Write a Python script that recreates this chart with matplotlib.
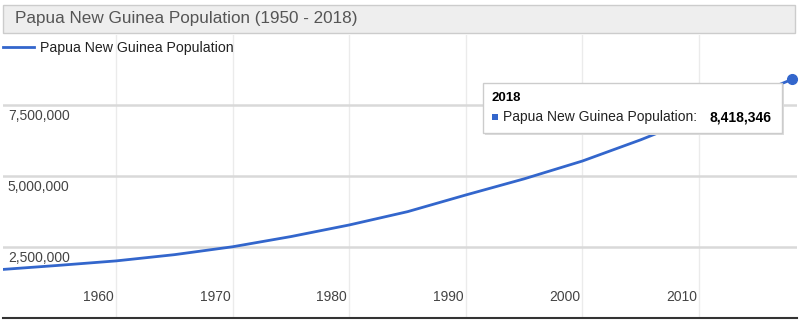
import matplotlib
matplotlib.use('Agg')
import matplotlib.pyplot as plt
from matplotlib.patches import Rectangle
from matplotlib.ticker import FuncFormatter

# 数据（从图上读出来的估计值）
years = [1950, 1955, 1960, 1965, 1970, 1975, 1980, 1985, 1990, 1995,
         2000, 2005, 2010, 2015, 2016, 2017, 2018]
population = [1690000, 1840000, 2000000, 2220000, 2500000, 2860000, 3270000,
              3740000, 4330000, 4900000, 5530000, 6280000, 7100000, 7920000,
              8080000, 8250000, 8418346]
x_ticks = [1960, 1970, 1980, 1990, 2000, 2010]
y_ticks = [2500000, 5000000, 7500000]

title = 'Papua New Guinea Population (1950 - 2018)'
series_name = 'Papua New Guinea Population'
blue = '#3366cc'

plt.rcParams['font.family'] = ['Arial', 'Liberation Sans', 'DejaVu Sans']

W, H = 801, 331
fig = plt.figure(figsize=(W / 100, H / 100), dpi=100)

def fx(px):
    return px / W

def fy(py):
    return 1 - py / H

# 标题框
fig.patches.append(Rectangle((fx(3), fy(33)), fx(792), 28 / H, transform=fig.transFigure,
                             facecolor='#eeeeee', edgecolor='#cccccc', lw=1, zorder=0))
fig.text(fx(15), fy(19), title, fontsize=12.3, color='#555555', va='center', ha='left')

# 画图区
ax = fig.add_axes([fx(3), fy(317.5), fx(794), 283 / H])
ax.set_xlim(1950.3, 2018.4)
ax.set_ylim(0, 10000000)
for s in ['top', 'right', 'left']:
    ax.spines[s].set_visible(False)
ax.spines['bottom'].set_color('#333333')
ax.spines['bottom'].set_linewidth(1.5)

ax.set_xticks(x_ticks)
ax.set_yticks(y_ticks)
ax.tick_params(length=0, labelbottom=False, labelleft=False)
ax.grid(axis='y', color='#d9d9d9', lw=1.8)
ax.grid(axis='x', color='#ebebeb', lw=1)
ax.set_axisbelow(True)

line, = ax.plot(years, population, color=blue, lw=2, label=series_name, zorder=3)
ax.plot(years[-1], population[-1], 'o', color=blue, ms=7, zorder=4, clip_on=False)

# 坐标轴文字放在图内
fmt = FuncFormatter(lambda v, p: '{:,.0f}'.format(v))
for v in y_ticks:
    ax.annotate(fmt(v), xy=(0, v), xycoords=('axes fraction', 'data'),
                xytext=(3.5, -3), textcoords='offset points', ha='left', va='top',
                fontsize=10, color='#444444')
for v in x_ticks:
    ax.annotate(str(v), xy=(v, 0), xycoords=('data', 'axes fraction'),
                xytext=(-1.5, 15), textcoords='offset points', ha='right', va='center',
                fontsize=10, color='#444444')

# 图例
leg = fig.legend(handles=[line], loc='center left', bbox_to_anchor=(fx(0), fy(48)),
                 frameon=False, fontsize=10.2, handlelength=2.2, handletextpad=0.4,
                 borderaxespad=0, borderpad=0.2)
for t in leg.get_texts():
    t.set_color('#222222')

# 提示框
fig.patches.append(Rectangle((fx(485), fy(135)), fx(299), 50 / H, transform=fig.transFigure,
                             facecolor='#dddddd', edgecolor='none', zorder=5))
fig.patches.append(Rectangle((fx(483), fy(133)), fx(299), 50 / H, transform=fig.transFigure,
                             facecolor='white', edgecolor='#cccccc', lw=1, zorder=6))
fig.text(fx(492), fy(98), str(years[-1]), fontsize=9.5, fontweight='bold', color='#000000',
         va='center', ha='left', zorder=7)
fig.patches.append(Rectangle((fx(492), fy(120)), fx(6), 6 / H, transform=fig.transFigure,
                             facecolor=blue, edgecolor='none', zorder=7))
fig.text(fx(503), fy(117), series_name + ':', fontsize=10, color='#222222',
         va='center', ha='left', zorder=7)
fig.text(fx(772), fy(117), '{:,}'.format(population[-1]), fontsize=10, fontweight='bold',
         color='#000000', va='center', ha='right', zorder=7)

fig.savefig('out.png', dpi=100)
